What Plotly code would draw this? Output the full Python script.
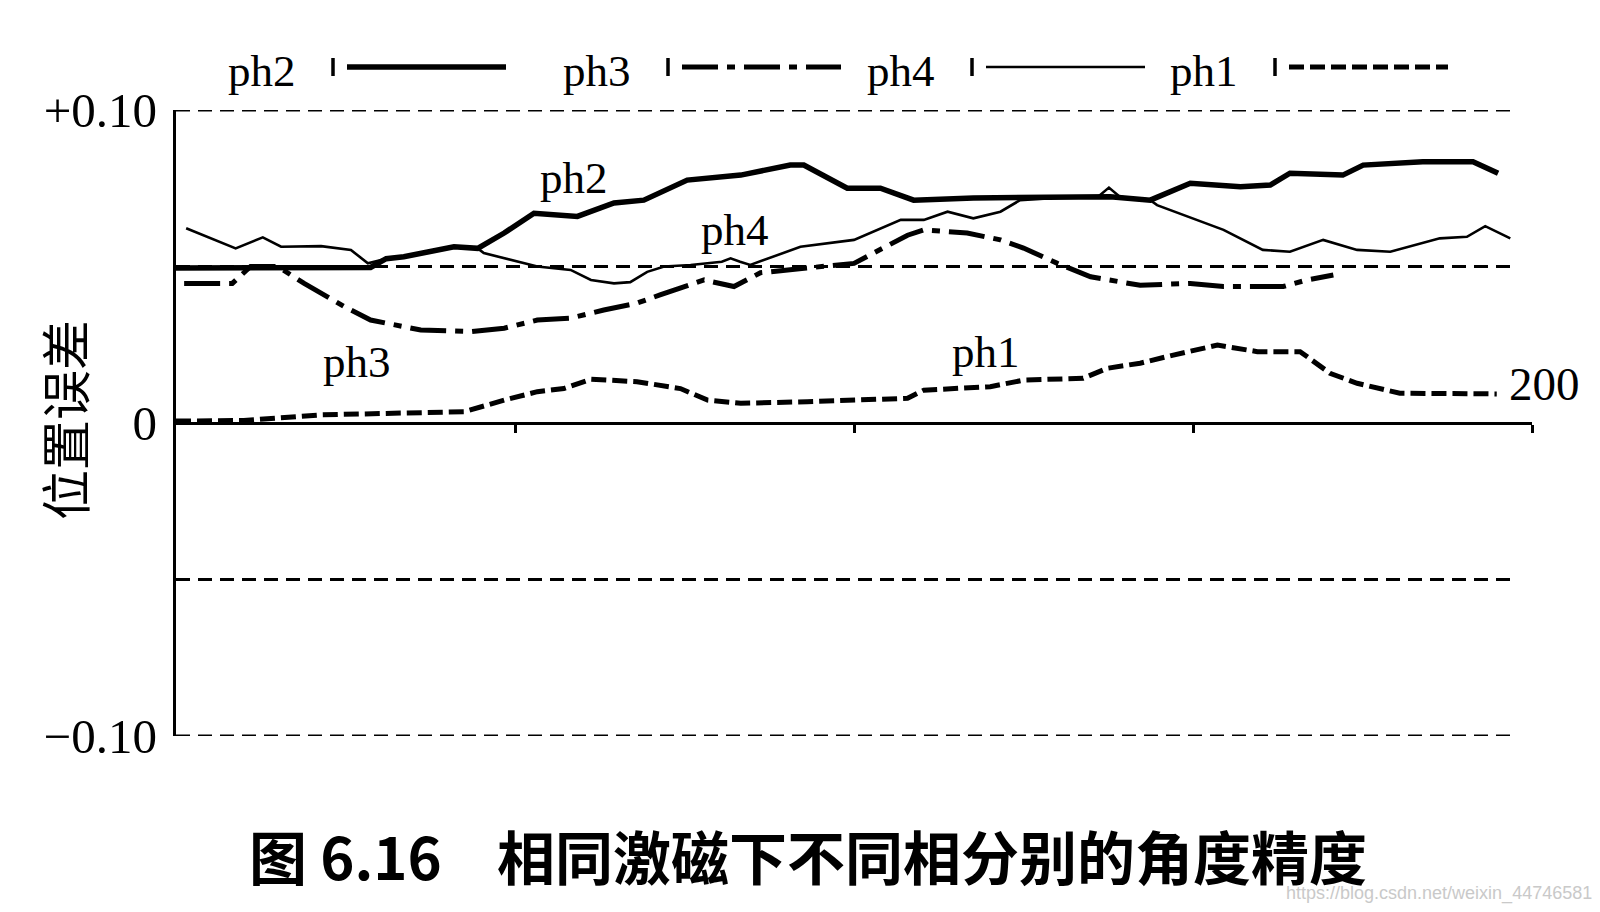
import plotly.graph_objects as go

# ---------------- data ----------------
ph2_x = [0, 10, 20, 28.7, 31, 33.6, 41, 44.5, 48.4, 52.8, 59.2, 64.6, 69, 75.4, 83.3, 90.6,
         92.6, 99, 103.9, 108.8, 117.6, 124.5, 132.4, 137.8, 143.7, 149.6, 157, 161.4, 164.3,
         172.1, 175.1, 183.9, 191.3, 195]
ph2_y = [0.0495, 0.0495, 0.0495, 0.0497, 0.0525, 0.0531, 0.0563, 0.0558, 0.0607, 0.0670, 0.0660,
         0.0703, 0.0712, 0.0776, 0.0792, 0.0824, 0.0824, 0.0750, 0.0750, 0.0712, 0.0719, 0.0719,
         0.0723, 0.0723, 0.0712, 0.0766, 0.0755, 0.0760, 0.0798, 0.0792, 0.0824, 0.0835, 0.0835,
         0.0798]

ph3_x = [1.2, 8.3, 11, 15, 18.9, 24.8, 28.7, 36.1, 43.5, 48.4, 53.3, 58.2, 63.1, 68, 71.5, 77.9,
         82.3, 86.2, 93, 100, 107.9, 110.3, 116.7, 121.6, 125, 130, 134.9, 142.2, 149.6, 154.5,
         163.3, 166.8, 170.7]
ph3_y = [0.0446, 0.0446, 0.0500, 0.0500, 0.0446, 0.0372, 0.0329, 0.0297, 0.0292, 0.0303, 0.0329,
         0.0335, 0.0361, 0.0383, 0.0410, 0.0457, 0.0436, 0.0480, 0.0495, 0.0510, 0.0600, 0.0617,
         0.0607, 0.0585, 0.0559, 0.0510, 0.0467, 0.0440, 0.0446, 0.0436, 0.0436, 0.0457, 0.0473]

ph4_x = [1.5, 8.8, 12.8, 15.5, 21.4, 25.8, 28.3, 31, 33.6, 41, 44.5, 45.4, 53.3, 58.2, 61.2, 64.6,
         67, 69.5, 72, 75.9, 80.5, 81.8, 83.2, 84.7, 92.1, 100, 106.9, 110.3, 113.8, 117.6, 121.6,
         124.5, 132.4, 136, 137.6, 139.2, 143.7, 144.7, 154.5, 160.3, 164.3, 169.2, 174.2, 179.1,
         186.4, 190.4, 193.1, 196.8]
ph4_y = [0.0622, 0.0558, 0.0593, 0.0563, 0.0565, 0.0553, 0.0510, 0.0525, 0.0531, 0.0563, 0.0558,
         0.0543, 0.0500, 0.0489, 0.0457, 0.0446, 0.0450, 0.0483, 0.0500, 0.0505, 0.0515, 0.0526,
         0.0515, 0.0505, 0.0563, 0.0585, 0.0649, 0.0649, 0.0675, 0.0654, 0.0675, 0.0712, 0.0723,
         0.0723, 0.0752, 0.0723, 0.0712, 0.0696, 0.0617, 0.0553, 0.0547, 0.0585, 0.0553, 0.0547,
         0.0590, 0.0595, 0.0629, 0.0590]

ph1_x = [0, 10, 21.4, 33.6, 42.5, 48.4, 53.3, 57.2, 61.2, 68, 74.4, 78.4, 83.3, 93.1, 107.9, 110.3,
         120.1, 125, 133.8, 137.4, 142.2, 147.1, 153.6, 159.5, 165.8, 170.2, 174.2, 180.5, 194.8]
ph1_y = [0.0006, 0.0008, 0.0026, 0.0032, 0.0036, 0.0073, 0.0100, 0.0110, 0.0140, 0.0132, 0.0110,
         0.0073, 0.0063, 0.0068, 0.0079, 0.0105, 0.0116, 0.0137, 0.0143, 0.0175, 0.0191, 0.0217,
         0.0249, 0.0228, 0.0228, 0.0159, 0.0127, 0.0095, 0.0093]

series_names = ["ph2", "ph3", "ph4", "ph1"]          # legend order
y_tick_vals = [-0.10, 0, 0.10]
y_tick_text = ["\u22120.10", "0", "+0.10"]
x_tick_vals = [50, 100, 150, 200]
guide_levels = [0.10, 0.05, -0.05, -0.10]             # dashed reference lines
guide_end = 197.5
curve_labels = {"ph2": (58.7, 0.0783), "ph4": (82.5, 0.0617),
                "ph3": (26.7, 0.0195), "ph1": (119.5, 0.0227)}
x_end_label = "200"
y_title = "位置误差"
fig_no = "图 6.16"
caption = "相同激磁下不同相分别的角度精度"
watermark = "https://blog.csdn.net/weixin_44746581"

# ---------------- styles ----------------
styles = {
    "ph2": dict(color="black", width=5.5, dash="solid"),
    "ph3": dict(color="black", width=5, dash="36px,9px,8px,9px"),
    "ph4": dict(color="black", width=2.6, dash="solid"),
    "ph1": dict(color="black", width=5, dash="15px,6px"),
}
data = {"ph1": (ph1_x, ph1_y), "ph2": (ph2_x, ph2_y),
        "ph3": (ph3_x, ph3_y), "ph4": (ph4_x, ph4_y)}

SERIF = "Liberation Serif, Times New Roman, serif"
CJK = "Noto Sans CJK SC"

# the page body has an 8px margin: size the figure so it fits the window exactly
OFF = 8
W, H = 1600 - 2 * OFF, 912 - 2 * OFF
L, T = 176 - OFF, 110 - OFF
PW, PH = 1356, 626
R, B = W - L - PW, H - T - PH


def px(X):
    """window pixel x -> paper fraction"""
    return (X - OFF - L) / PW


def py(Y):
    """window pixel y -> paper fraction"""
    return (T + PH - (Y - OFF)) / PH


fig = go.Figure()
for name in ["ph1", "ph3", "ph4", "ph2"]:
    xs, ys = data[name]
    fig.add_trace(go.Scatter(x=xs, y=ys, mode="lines", name=name, line=styles[name],
                             cliponaxis=False, showlegend=False, hoverinfo="skip"))

shapes = []
for lv in guide_levels:
    shapes.append(dict(type="line", xref="x", yref="y", x0=0, x1=guide_end, y0=lv, y1=lv,
                       line=dict(color="black", width=3, dash="14px,8px"), layer="below"))

annotations = []
# legend row at the top
legend_starts = [226, 561, 865, 1168]
legend_y = 67
for name, s in zip(series_names, legend_starts):
    annotations.append(dict(xref="paper", yref="paper", x=px(s), y=py(legend_y + 4),
                            text=name, showarrow=False, xanchor="left", yanchor="middle",
                            font=dict(family=SERIF, size=45, color="black")))
    shapes.append(dict(type="line", xref="paper", yref="paper", x0=px(s + 107), x1=px(s + 107),
                       y0=py(legend_y - 9), y1=py(legend_y + 9),
                       line=dict(color="black", width=3.5)))
    st = styles[name]
    shapes.append(dict(type="line", xref="paper", yref="paper", x0=px(s + 121), x1=px(s + 280),
                       y0=py(legend_y), y1=py(legend_y),
                       line=dict(color="black", width=st["width"], dash=st["dash"])))

for name, (lx, ly) in curve_labels.items():
    annotations.append(dict(xref="x", yref="y", x=lx, y=ly, text=name, showarrow=False,
                            xanchor="center", yanchor="middle",
                            font=dict(family=SERIF, size=45, color="black")))

annotations.append(dict(xref="paper", yref="y", x=px(1582), y=0.0125,
                        text=x_end_label, showarrow=False, xanchor="right", yanchor="middle",
                        font=dict(family=SERIF, size=47, color="black")))
annotations.append(dict(xref="paper", yref="paper", x=px(63), y=py(420), text=y_title,
                        textangle=-90, showarrow=False, xanchor="center", yanchor="middle",
                        font=dict(family=CJK, size=50, color="black")))
annotations.append(dict(xref="paper", yref="paper", x=px(247), y=py(855), text=fig_no,
                        showarrow=False, xanchor="left", yanchor="middle",
                        font=dict(family=CJK, size=58, color="black", weight="bold")))
annotations.append(dict(xref="paper", yref="paper", x=px(495), y=py(855), text=caption,
                        showarrow=False, xanchor="left", yanchor="middle",
                        font=dict(family=CJK, size=58, color="black", weight="bold")))
annotations.append(dict(xref="paper", yref="paper", x=px(1594), y=py(893), text=watermark,
                        showarrow=False, xanchor="right", yanchor="middle",
                        font=dict(family="Liberation Sans Narrow, Liberation Sans", size=18,
                                  color="#c9c9c9")))

fig.update_layout(
    width=W, height=H, margin=dict(l=L, r=R, t=T, b=B, autoexpand=False),
    paper_bgcolor="white", plot_bgcolor="white", showlegend=False,
    shapes=shapes, annotations=annotations,
    xaxis=dict(range=[0, 200], anchor="free", position=0.5, showgrid=False, zeroline=False,
               showline=True, linecolor="black", linewidth=3.2,
               tickvals=x_tick_vals, ticks="outside", ticklen=8, tickwidth=2.5,
               tickcolor="black", showticklabels=False),
    xaxis2=dict(range=[0, 200], anchor="free", position=0.5, overlaying="x", side="bottom",
                showgrid=False, zeroline=False, showline=False,
                tickvals=x_tick_vals, ticks="inside", ticklen=8, tickwidth=2.5,
                tickcolor="black", showticklabels=False),
    yaxis=dict(range=[-0.1, 0.1], showgrid=False, zeroline=False, showline=True,
               linecolor="black", linewidth=3.2, tickvals=y_tick_vals, ticktext=y_tick_text,
               ticks="", ticklabelstandoff=6,
               tickfont=dict(family=SERIF, size=49, color="black")),
)

fig.write_html("out.html")
